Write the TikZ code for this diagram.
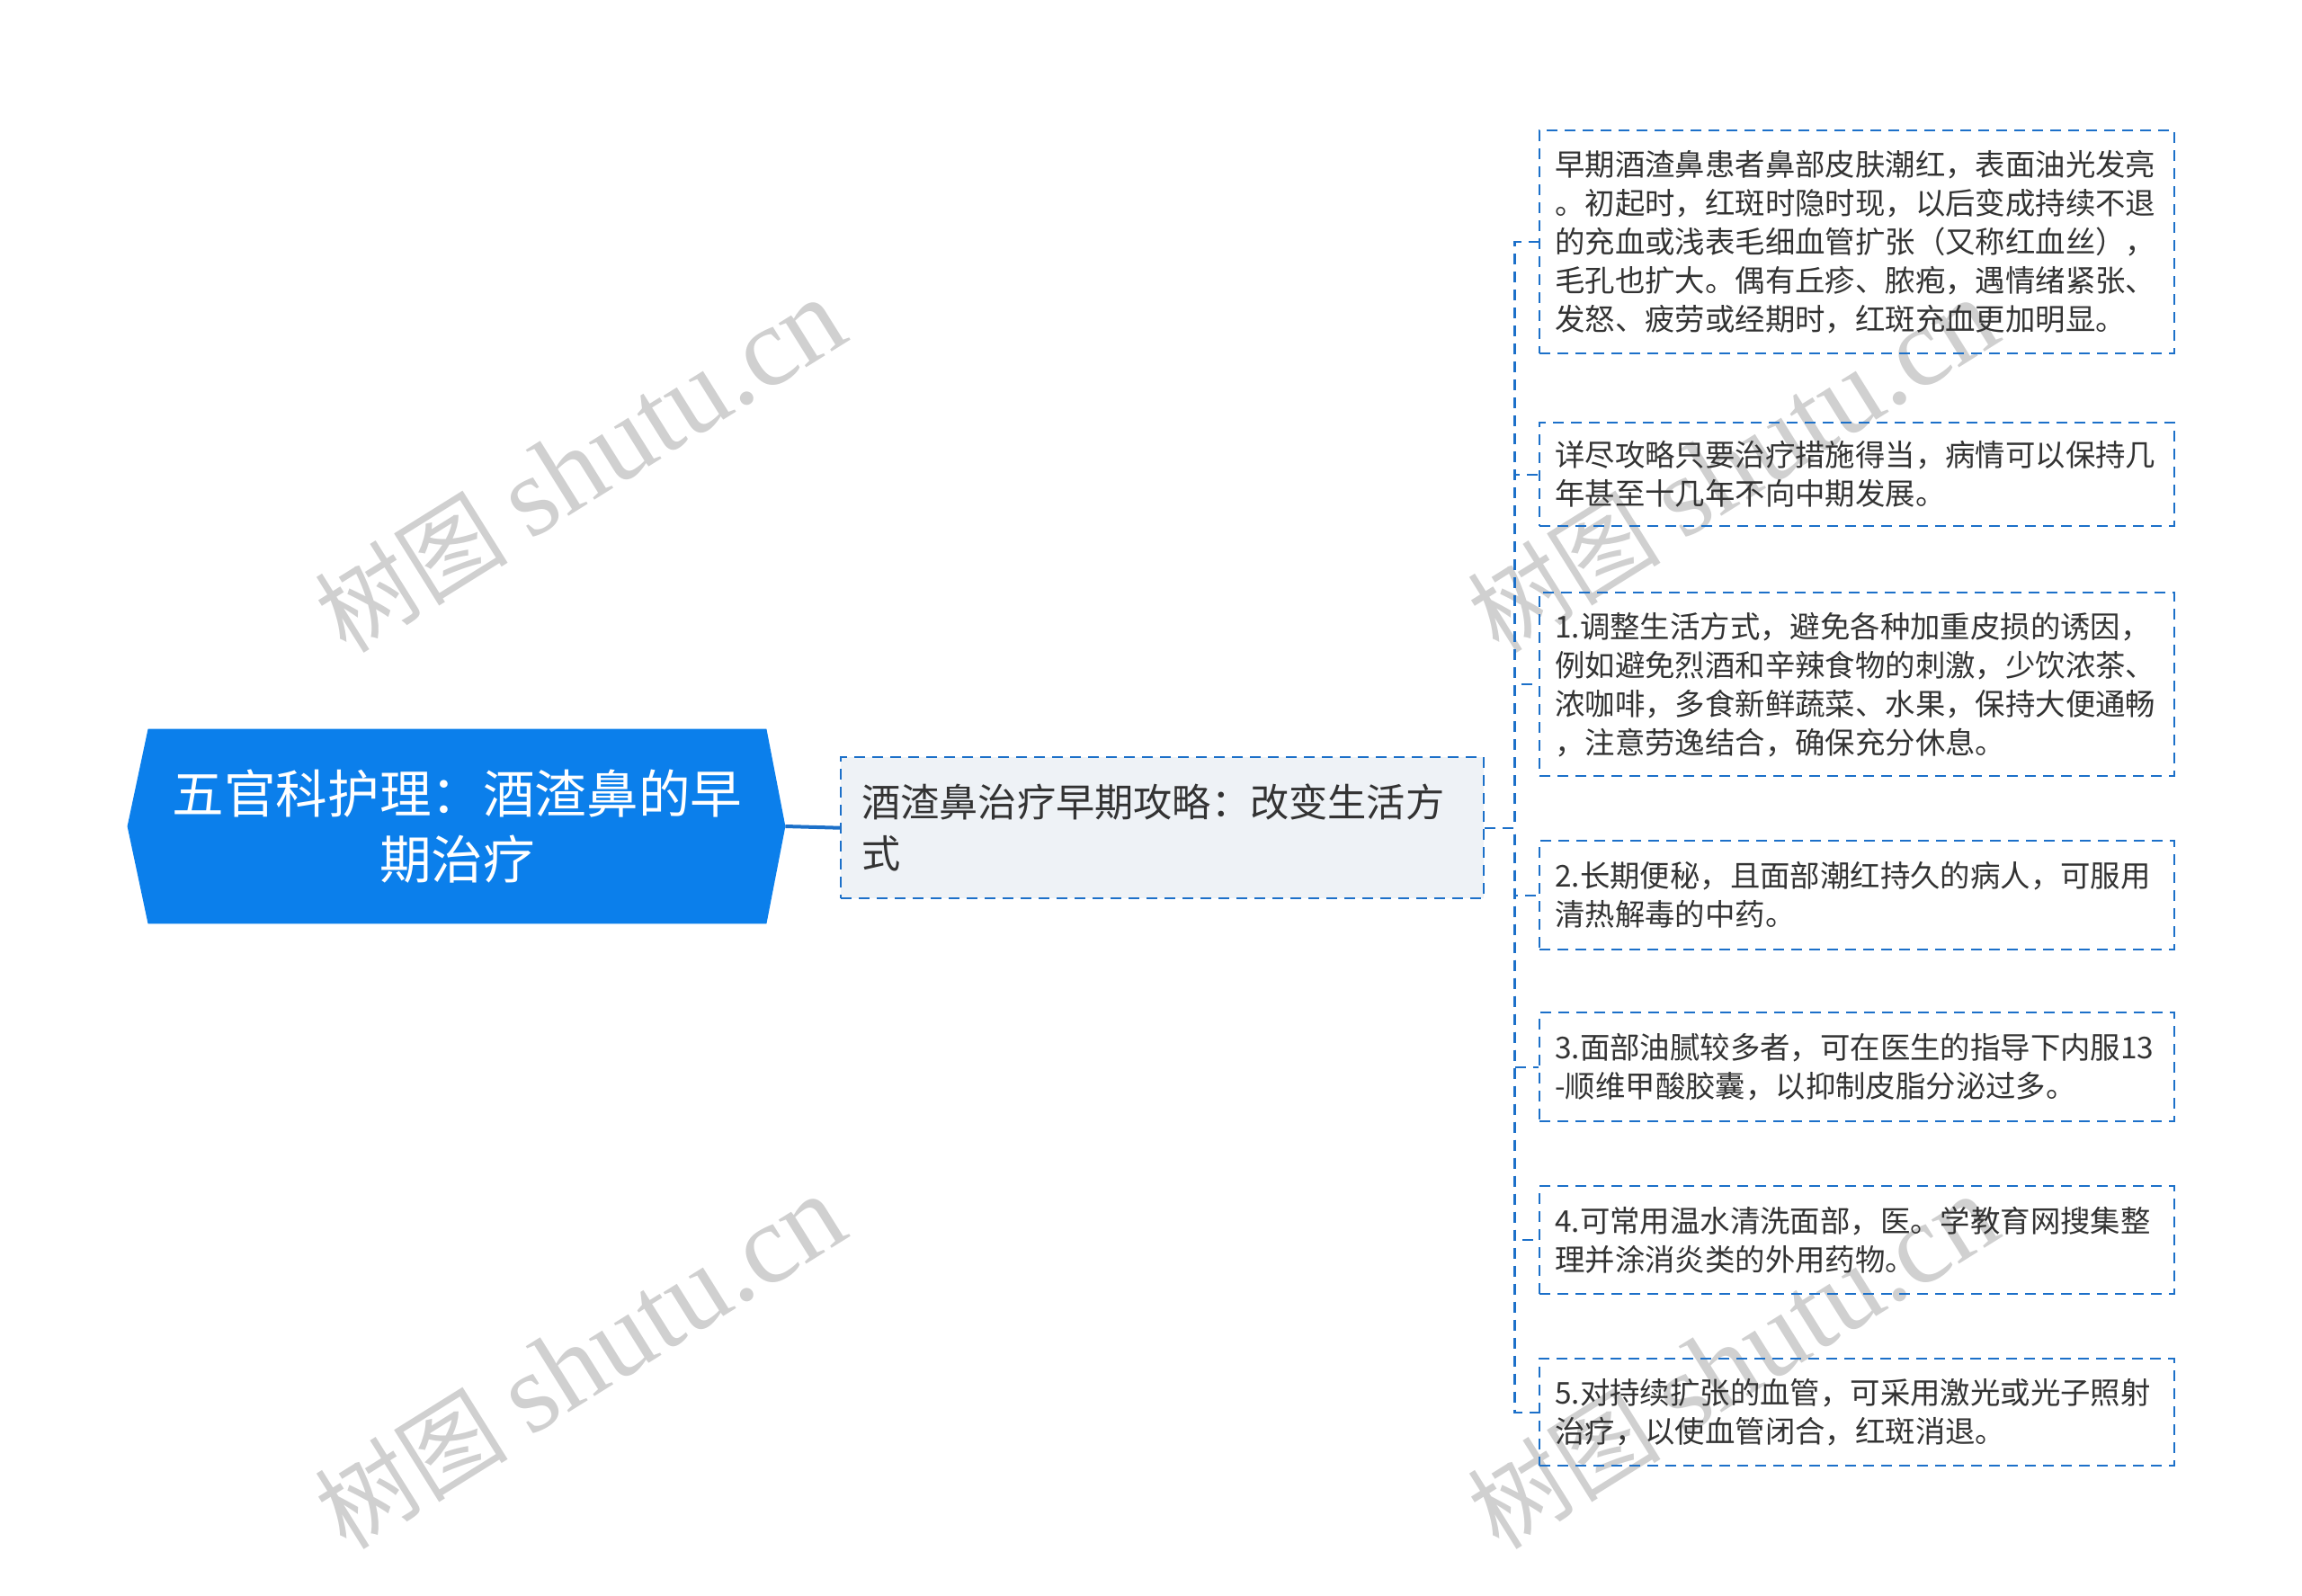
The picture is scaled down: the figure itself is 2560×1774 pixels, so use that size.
\documentclass[tikz,border=0pt]{standalone}
\usepackage{fontspec}
\setmainfont{Noto Sans CJK SC}
\newfontfamily\wmlatin{Liberation Serif}
\usetikzlibrary{calc,backgrounds}

\definecolor{rootblue}{RGB}{11,127,235}
\definecolor{linkblue}{RGB}{28,112,201}
\definecolor{subfill}{RGB}{238,242,246}
\definecolor{wmgray}{RGB}{208,208,208}

\begin{document}
\begin{tikzpicture}[x=0.5pt,y=-0.5pt,
    rootbox/.style={minimum width=343.5pt,minimum height=108pt,inner sep=0pt,align=center,text=white,font=\fontsize{28.8pt}{36.7pt}\selectfont},
    subbox/.style={draw=linkblue,fill=subfill,line width=1.2pt,dash pattern=on 6pt off 4pt,minimum height=78.5pt,inner xsep=11.5pt,inner ysep=0pt,text width=334.5pt,align=left,text=black!80,font=\fontsize{21.6pt}{28.6pt}\selectfont,anchor=north west},
    leafbox/.style={draw=linkblue,line width=1.2pt,dash pattern=on 6pt off 4pt,inner xsep=8.5pt,inner ysep=0pt,text width=336pt,align=left,text=black!80,font=\fontsize{16.7pt}{21.5pt}\selectfont,anchor=north west},
    trunk/.style={draw=linkblue,line width=2pt},
    branch/.style={draw=linkblue,line width=1.2pt,dash pattern=on 6pt off 4pt},
    watermark/.style={text=wmgray,rotate=32,font=\fontsize{54pt}{54pt}\selectfont}]

        \useasboundingbox (0,0) rectangle (2560,1774);

        % watermarks
        \node[watermark] (wm1) at (645,518) {树图 {\wmlatin\fontsize{63pt}{63pt}\selectfont shutu.cn}};
        \node[watermark] (wm2) at (645,1515) {树图 {\wmlatin\fontsize{63pt}{63pt}\selectfont shutu.cn}};
        \node[watermark] (wm3) at (1927,518) {树图 {\wmlatin\fontsize{63pt}{63pt}\selectfont shutu.cn}};
        \node[watermark] (wm4) at (1927,1515) {树图 {\wmlatin\fontsize{63pt}{63pt}\selectfont shutu.cn}};

        % root
        \node[rootbox] (root) at (508.5,919) {五官科护理：酒渣鼻的早\\期治疗};
        \begin{scope}[on background layer]
            \fill[rootblue] (root.north west) -- (root.north east) -- ($(root.east)+(21,0)$)
                -- (root.south east) -- (root.south west) -- ($(root.west)+(-23,0)$) -- cycle;
        \end{scope}
        \coordinate (rootTip) at ($(root.east)+(21,0)$);

        % main topic
        \node[subbox] (sub) at (934,841) {酒渣鼻治疗早期攻略：改变生活方\\式};

        % leaves
        \node[leafbox,minimum height=124pt] (n1) at (1711,144) {早期酒渣鼻患者鼻部皮肤潮红，表面油光发亮\\。初起时，红斑时隐时现，以后变成持续不退\\的充血或浅表毛细血管扩张（又称红血丝），\\毛孔也扩大。偶有丘疹、脓疱，遇情绪紧张、\\发怒、疲劳或经期时，红斑充血更加明显。};
        \node[leafbox,minimum height=57.5pt] (n2) at (1711,469) {详尽攻略只要治疗措施得当，病情可以保持几\\年甚至十几年不向中期发展。};
        \node[leafbox,minimum height=102pt] (n3) at (1711,658) {1.调整生活方式，避免各种加重皮损的诱因，\\例如避免烈酒和辛辣食物的刺激，少饮浓茶、\\浓咖啡，多食新鲜蔬菜、水果，保持大便通畅\\，注意劳逸结合，确保充分休息。};
        \node[leafbox,minimum height=60.5pt] (n4) at (1711,934) {2.长期便秘，且面部潮红持久的病人，可服用\\清热解毒的中药。};
        \node[leafbox,minimum height=60.5pt] (n5) at (1711,1125) {3.面部油腻较多者，可在医生的指导下内服13\\-顺维甲酸胶囊，以抑制皮脂分泌过多。};
        \node[leafbox,minimum height=60pt] (n6) at (1711,1318) {4.可常用温水清洗面部，医。学教育网搜集整\\理并涂消炎类的外用药物。};
        \node[leafbox,minimum height=59.5pt] (n7) at (1711,1510) {5.对持续扩张的血管，可采用激光或光子照射\\治疗，以使血管闭合，红斑消退。};

        % connectors
        \draw[trunk] (rootTip) -- (sub.west);
        \coordinate (fork) at ($(sub.east)+(33,0)$);
        \draw[branch] (sub.east) -- (fork) |- (n1.west);
        \draw[branch] (sub.east) -- (fork) |- (n2.west);
        \draw[branch] (sub.east) -- (fork) |- (n3.west);
        \draw[branch] (sub.east) -- (fork) |- (n4.west);
        \draw[branch] (sub.east) -- (fork) |- (n5.west);
        \draw[branch] (sub.east) -- (fork) |- (n6.west);
        \draw[branch] (sub.east) -- (fork) |- (n7.west);
\end{tikzpicture}
\end{document}
